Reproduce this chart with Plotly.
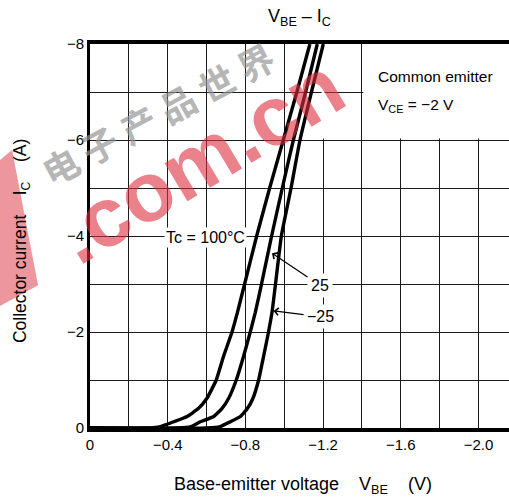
import plotly.graph_objects as go

# ---- data (V_BE in volts, I_C in amperes; negative as on the chart) ----
ic_pts = [0, 0, -0.03, -0.13, -0.24, -0.41, -0.62, -1.0, -1.5, -2.0, -2.41, -3.0, -4.0, -5.0, -6.0, -7.0, -8.0]

vbe_100 = [0, -0.30, -0.362, -0.431, -0.50, -0.559, -0.602, -0.650, -0.688, -0.731, -0.759, -0.796, -0.858, -0.925, -0.995, -1.065, -1.132]
vbe_25 = [0, -0.45, -0.52, -0.568, -0.637, -0.68, -0.714, -0.753, -0.791, -0.825, -0.851, -0.883, -0.935, -0.99, -1.047, -1.11, -1.17]
vbe_m25 = [0, -0.60, -0.67, -0.722, -0.774, -0.811, -0.839, -0.868, -0.894, -0.919, -0.937, -0.955, -0.985, -1.035, -1.081, -1.14, -1.201]

x_tickvals = [0, -0.4, -0.8, -1.2, -1.6, -2.0]
x_ticktext = ["0", "\u22120.4", "\u22120.8", "\u22121.2", "\u22121.6", "\u22122.0"]
y_tickvals = [0, -2, -4, -6, -8]
y_ticktext = ["0", "\u22122", "\u22124", "\u22126", "\u22128"]

FONT = "Liberation Sans, Arial, Helvetica, sans-serif"
GRID = "#1a1a1a"

fig = go.Figure()
for xs in [vbe_100, vbe_25, vbe_m25]:
    fig.add_trace(go.Scatter(x=xs, y=ic_pts, mode="lines",
                             line=dict(color="black", width=3.4, shape="spline", smoothing=0.4),
                             hoverinfo="skip", showlegend=False))

fig.update_layout(
    width=509, height=499,
    margin=dict(l=90, r=0, t=44, b=71),
    paper_bgcolor="white", plot_bgcolor="white",
    font=dict(family=FONT, color="black", size=15),
    showlegend=False,
)
fig.update_xaxes(
    range=[0, -2.157], tickvals=x_tickvals, ticktext=x_ticktext,
    showgrid=True, gridcolor=GRID, gridwidth=1.3,
    minor=dict(tickmode="linear", tick0=0, dtick=0.2, showgrid=True, gridcolor=GRID, gridwidth=1.3),
    showline=True, linecolor="black", linewidth=3.5, mirror=True,
    zeroline=False, ticks="", ticklabelstandoff=0,
    tickfont=dict(size=15, family=FONT),
)
fig.update_yaxes(
    range=[0, -8], tickvals=y_tickvals, ticktext=y_ticktext,
    showgrid=True, gridcolor=GRID, gridwidth=1.3,
    minor=dict(tickmode="linear", tick0=0, dtick=1, showgrid=True, gridcolor=GRID, gridwidth=1.3),
    showline=True, linecolor="black", linewidth=3, mirror=False,
    zeroline=False, ticks="", ticklabelstandoff=0,
    tickfont=dict(size=15, family=FONT),
)

# white legend box region (top right) and gap in the -1.2 gridline above -6
fig.add_shape(type="rect", xref="x", yref="y", x0=-1.407, x1=-2.3, y0=-6.03, y1=-8.2,
              fillcolor="white", line=dict(width=0), layer="between")
fig.add_shape(type="line", xref="x", yref="y", x0=-1.2, x1=-1.2, y0=-6.03, y1=-8.0,
              line=dict(color="white", width=3), layer="between")

C = dict(xanchor="center", yanchor="middle")
SP = "\u00a0" * 4
ann = []
ann.append(dict(text="Common emitter", x=-1.472, y=-7.33, xref="x", yref="y",
                xanchor="left", yanchor="middle", showarrow=False, font=dict(size=15.5)))
ann.append(dict(text="V<sub>CE</sub> = \u22122 V", x=-1.472, y=-6.72, xref="x", yref="y",
                xanchor="left", yanchor="middle", showarrow=False, font=dict(size=15.5)))
ann.append(dict(text="Tc = 100\u00b0C", x=-0.597, y=-3.96, xref="x", yref="y",
                showarrow=False, bgcolor="white", borderpad=1, font=dict(size=16), **C))
ann.append(dict(text="25", x=-0.937, y=-3.64, xref="x", yref="y", ax=48, ay=32,
                showarrow=True, arrowhead=4, arrowsize=1.2, arrowwidth=1.2, arrowcolor="black",
                bgcolor="white", borderpad=3, font=dict(size=16)))
ann.append(dict(text="\u221225", x=-0.945, y=-2.44, xref="x", yref="y", ax=47, ay=6,
                showarrow=True, arrowhead=4, arrowsize=1.2, arrowwidth=1.2, arrowcolor="black",
                bgcolor="white", borderpad=3, font=dict(size=16)))
# titles
ann.append(dict(text="V<sub>BE</sub> \u2013 I<sub>C</sub>", x=0.50, y=1.068, xref="paper", yref="paper",
                showarrow=False, font=dict(size=18), **C))
ann.append(dict(text="Base-emitter voltage" + SP + "V<sub>BE</sub>" + SP + "(V)",
                x=0.508, y=-0.151, xref="paper", yref="paper", showarrow=False, font=dict(size=18), **C))
ann.append(dict(text="Collector current" + SP + "I<sub>C</sub>" + SP + "(A)",
                x=-0.162, y=0.487, xref="paper", yref="paper", showarrow=False, textangle=-90,
                font=dict(size=17.5), **C))
# watermark
ann.append(dict(text="<b>\u7535 \u5b50 \u4ea7 \u54c1 \u4e16 \u754c</b>", x=0.16, y=0.82, xref="paper", yref="paper",
                showarrow=False, textangle=-28,
                font=dict(size=36, family="Noto Sans CJK SC", color="rgba(150,150,150,0.7)"), **C))
ann.append(dict(text="<b>.com.cn</b>", x=0.262, y=0.697, xref="paper", yref="paper",
                showarrow=False, textangle=-31,
                font=dict(size=84, family=FONT, color="rgba(222,45,60,0.6)"), **C))
fig.update_layout(annotations=ann)

fig.add_shape(type="path", xref="paper", yref="paper",
              path="M -0.2148 0.698 L -0.186 0.724 L -0.124 0.372 L -0.2148 0.318 Z",
              fillcolor="rgba(222,45,60,0.5)", line=dict(width=0), layer="above")

fig.write_html("out.html", config={"displayModeBar": False},
               post_script="document.body.style.margin='0px';document.body.style.overflow='hidden';")
